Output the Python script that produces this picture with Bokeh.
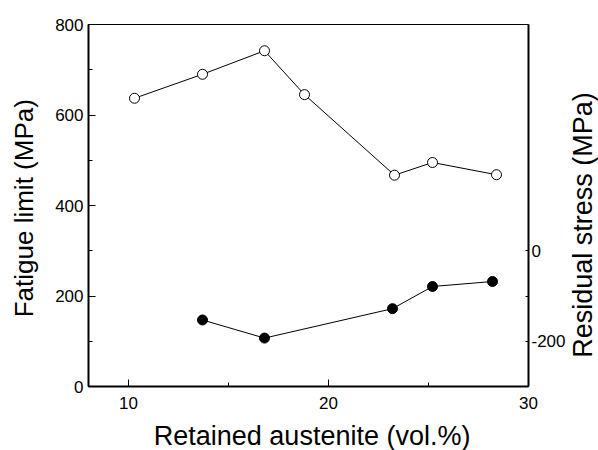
import math
from bokeh.plotting import figure
from bokeh.models import LinearAxis, Range1d, FixedTicker, Label
from bokeh.embed import file_html
from bokeh.resources import INLINE

# Fatigue limit vs retained austenite
fl_x = [10.3, 13.7, 16.8, 18.8, 23.3, 25.2, 28.4]
fl_y = [637, 690, 742, 645, 467, 495, 468]

# Residual stress vs retained austenite (right axis)
rs_x = [13.7, 16.8, 23.2, 25.2, 28.2]
rs_y = [-153, -193, -128, -79, -68]

x_ticks = [10, 20, 30]
x_minor = [15, 25]
left_ticks = [0, 200, 400, 600, 800]
left_minor = [100, 300, 500, 700]
right_ticks = [-200, -100, 0]
right_minor = [100, 200, 300, 400]

FONT = "Liberation Sans"

p = figure(width=598, height=450, output_backend="svg", toolbar_location=None,
           x_range=Range1d(8, 30), y_range=Range1d(0, 800),
           min_border_left=88, min_border_right=69, min_border_top=24,
           min_border_bottom=64)
p.extra_y_ranges = {"rs": Range1d(-300, 500)}
p.xgrid.visible = False
p.ygrid.visible = False
p.outline_line_color = "black"
p.outline_line_width = 1
p.background_fill_color = "white"
p.border_fill_color = "white"

# Fatigue limit: open circles
p.line(fl_x, fl_y, line_color="black", line_width=1)
p.scatter(fl_x, fl_y, marker="circle", size=10, fill_color="white",
          line_color="black", line_width=1)

# Residual stress: filled circles
p.line(rs_x, rs_y, line_color="black", line_width=1, y_range_name="rs")
p.scatter(rs_x, rs_y, marker="circle", size=10, fill_color="black",
          line_color="black", y_range_name="rs")

ax_r = LinearAxis(y_range_name="rs")
p.add_layout(ax_r, "right")

for ax in (p.xaxis[0], p.yaxis[0], ax_r):
    ax.axis_line_width = 2
    ax.axis_line_color = "black"
    ax.major_tick_line_color = "black"
    ax.minor_tick_line_color = "black"
    ax.major_label_text_font = FONT
    ax.major_label_text_font_size = "17px"
    ax.major_label_text_color = "black"
    ax.axis_label = None

xa = p.xaxis[0]
xa.ticker = FixedTicker(ticks=x_ticks, minor_ticks=x_minor)
xa.major_tick_in = 7
xa.major_tick_out = 0
xa.minor_tick_in = 4
xa.minor_tick_out = 0
xa.major_label_standoff = 10

ya = p.yaxis[0]
ya.ticker = FixedTicker(ticks=left_ticks, minor_ticks=left_minor)
ya.major_tick_in = 7
ya.major_tick_out = 0
ya.minor_tick_in = 4
ya.minor_tick_out = 0
ya.major_label_standoff = 5

ax_r.ticker = FixedTicker(ticks=right_ticks, minor_ticks=right_minor)
ax_r.major_label_overrides = {-200: "-200", -100: "", 0: "0"}
ax_r.major_tick_in = 3
ax_r.major_tick_out = 0
ax_r.minor_tick_in = 0
ax_r.minor_tick_out = 0
ax_r.major_label_standoff = 3

# Axis titles as labels in the border panels, positioned in data space
title_style = dict(x_units="data", y_units="data", text_font=FONT,
                   text_color="black", text_align="center",
                   text_baseline="alphabetic")
p.add_layout(Label(x=19.18, y=-109, text="Retained austenite (vol.%)",
                   text_font_size="27px", **title_style), "below")
p.add_layout(Label(x=4.75, y=394, text="Fatigue limit (MPa)",
                   text_font_size="26px", angle=math.pi / 2,
                   **title_style), "left")
p.add_layout(Label(x=32.7, y=357, text="Residual stress (MPa)",
                   text_font_size="27px", angle=math.pi / 2,
                   **title_style), "right")

open("out.html", "w").write(file_html(p, INLINE))
